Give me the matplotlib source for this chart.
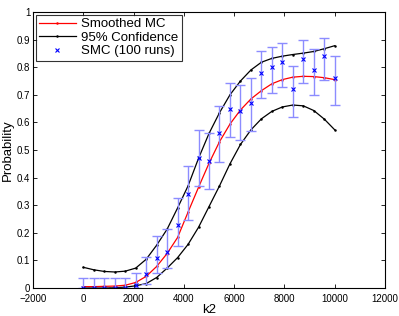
import matplotlib
matplotlib.use("Agg")
import matplotlib.pyplot as plt
import numpy as np

plt.rcParams['font.family'] = ['Liberation Sans', 'DejaVu Sans']

# k2 grid (25 settings, 0..10000)
k2 = np.linspace(0, 10000, 25)

# SMC estimates (100 runs) and 95% bounds
smc = [0.00, 0.00, 0.00, 0.00, 0.00, 0.01, 0.05, 0.11, 0.13, 0.23, 0.34, 0.47, 0.46,
       0.56, 0.65, 0.64, 0.67, 0.78, 0.80, 0.82, 0.72, 0.83, 0.79, 0.84, 0.76]
smc_low = [0.000, 0.000, 0.000, 0.000, 0.000, 0.000, 0.016, 0.056, 0.071, 0.152, 0.248, 0.369, 0.360,
           0.457, 0.548, 0.538, 0.569, 0.687, 0.708, 0.730, 0.621, 0.741, 0.698, 0.752, 0.664]
smc_high = [0.036, 0.036, 0.036, 0.036, 0.036, 0.054, 0.113, 0.188, 0.212, 0.325, 0.442, 0.572, 0.562,
            0.659, 0.743, 0.734, 0.761, 0.857, 0.873, 0.889, 0.804, 0.897, 0.865, 0.905, 0.840]

# smoothed MC curve and its confidence band
mc = [0.005, 0.005, 0.006, 0.007, 0.010, 0.020, 0.042, 0.078, 0.125, 0.183, 0.275, 0.365, 0.452,
      0.530, 0.594, 0.645, 0.685, 0.715, 0.740, 0.755, 0.764, 0.767, 0.766, 0.762, 0.755]
mc_up = [0.075, 0.066, 0.060, 0.058, 0.061, 0.072, 0.104, 0.155, 0.213, 0.290, 0.370, 0.470, 0.560,
         0.635, 0.700, 0.750, 0.790, 0.818, 0.832, 0.840, 0.846, 0.851, 0.857, 0.867, 0.878]
mc_low = [0.000, 0.000, 0.000, 0.001, 0.003, 0.008, 0.016, 0.038, 0.072, 0.110, 0.158, 0.220, 0.295,
          0.370, 0.450, 0.520, 0.573, 0.613, 0.640, 0.656, 0.663, 0.660, 0.643, 0.612, 0.573]

fig = plt.figure(figsize=(3.99, 3.16), dpi=100)
ax = fig.add_axes([0.0827, 0.0886, 0.8823, 0.8734])

ax.plot(k2, mc, '-', color='red', lw=0.9, marker='.', ms=1.6, label='Smoothed MC')
ax.plot(k2, mc_up, '-', color='black', lw=0.9, marker='.', ms=1.6, label='95% Confidence')
ax.plot(k2, mc_low, '-', color='black', lw=0.9, marker='.', ms=1.6)

smc_a = np.array(smc)
yerr = [smc_a - np.array(smc_low), np.array(smc_high) - smc_a]
ax.errorbar(k2, smc, yerr=yerr, fmt='none', ecolor='#8c8cff', elinewidth=1.0, capsize=3.5, capthick=1.0)
ax.plot(k2, smc, 'x', color='blue', ms=2.6, mew=0.8, label='SMC (100 runs)')

ax.set_xlim(-2000, 12000)
ax.set_ylim(0, 1)
ax.set_xticks(np.arange(-2000, 12001, 2000))
ax.set_yticks(np.arange(0, 1.01, 0.1))
ax.set_yticklabels(['0', '0.1', '0.2', '0.3', '0.4', '0.5', '0.6', '0.7', '0.8', '0.9', '1'])
ax.tick_params(direction='in', top=True, right=True, labelsize=7, length=3, width=0.6)
ax.tick_params(axis='x', pad=4)
ax.tick_params(axis='y', pad=2)
for s in ax.spines.values():
    s.set_linewidth(0.8)

ax.set_xlabel('k2', fontsize=9.5, labelpad=0)
ax.set_ylabel('Probability', fontsize=9.5, labelpad=2)

leg = ax.legend(loc='upper left', fontsize=9.5, frameon=True, fancybox=False,
                edgecolor='black', borderpad=0.25, labelspacing=0.1, handlelength=2.8,
                handletextpad=0.4, borderaxespad=0.2)
leg.get_frame().set_linewidth(0.8)

fig.savefig('out.png', dpi=100)
